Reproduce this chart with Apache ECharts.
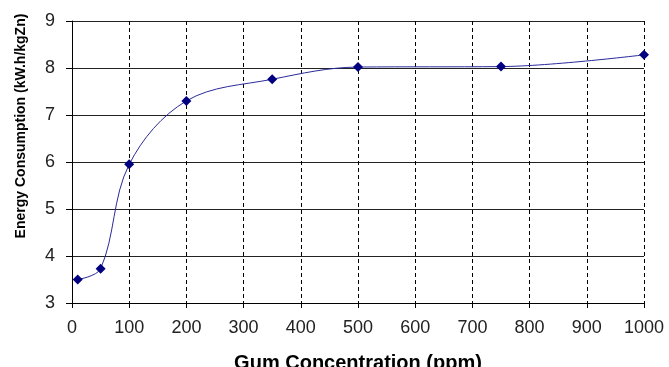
<!DOCTYPE html>
<html>
<head>
<meta charset="utf-8">
<script src="https://cdn.jsdelivr.net/npm/echarts@6/dist/echarts.min.js"></script>
<style>
  html, body { margin: 0; padding: 0; background: #fff; }
  #chart { width: 669px; height: 367px; }
</style>
</head>
<body>
<div id="chart"></div>
<script>
// Gum concentration (ppm) and the measured energy consumption (kW.h/kgZn)
const gumPpm = [10, 50, 100, 200, 350, 500, 750, 1000];
const energy = [3.50, 3.73, 5.95, 7.30, 7.76, 8.02, 8.03, 8.28];
const xTicks = [0, 100, 200, 300, 400, 500, 600, 700, 800, 900, 1000];
const yTicks = [3, 4, 5, 6, 7, 8, 9];

const points = gumPpm.map((x, i) => [x, energy[i]]);

const chart = echarts.init(document.getElementById('chart'));
const font = 'Liberation Sans, Arial, sans-serif';

chart.setOption({
  animation: false,
  backgroundColor: '#ffffff',
  grid: {
    left: 72, right: 25, top: 21, bottom: 64,
    containLabel: false,
    outerBoundsMode: 'none'
  },
  xAxis: {
    type: 'value',
    min: xTicks[0],
    max: xTicks[xTicks.length - 1],
    interval: 100,
    name: 'Gum Concentration (ppm)',
    nameLocation: 'middle',
    nameGap: 50,
    nameTextStyle: { fontFamily: font, fontSize: 20, fontWeight: 'bold', color: '#000' },
    axisLine: { show: true, lineStyle: { color: '#000', width: 1 } },
    axisTick: { show: true, inside: false, length: 5, lineStyle: { color: '#000' } },
    axisLabel: {
      fontFamily: font, fontSize: 18, color: '#222', margin: 16,
      formatter: v => String(v)
    },
    splitLine: { show: true, lineStyle: { color: '#000', type: [4, 3], width: 1 } }
  },
  yAxis: {
    type: 'value',
    min: yTicks[0],
    max: yTicks[yTicks.length - 1],
    interval: 1,
    name: 'Energy Consumption (kW.h/kgZn)',
    nameLocation: 'middle',
    nameGap: 44,
    nameTruncate: { maxWidth: null },
    nameTextStyle: {
      fontFamily: font, fontSize: 14, fontWeight: 'bold', color: '#000',
      padding: [0, 0, 0, 72]
    },
    axisLine: { show: true, lineStyle: { color: '#000', width: 1 } },
    axisTick: { show: true, inside: false, length: 6, lineStyle: { color: '#000' } },
    axisLabel: { fontFamily: font, fontSize: 18, color: '#222', margin: 17 },
    splitLine: { show: true, lineStyle: { color: '#222', type: 'solid', width: 1 } }
  },
  series: [{
    type: 'line',
    data: points,
    smooth: 0.35,
    symbol: 'diamond',
    symbolSize: 10,
    lineStyle: { color: '#2a2a9a', width: 1 },
    itemStyle: { color: '#000080' }
  }]
});
</script>
</body>
</html>
